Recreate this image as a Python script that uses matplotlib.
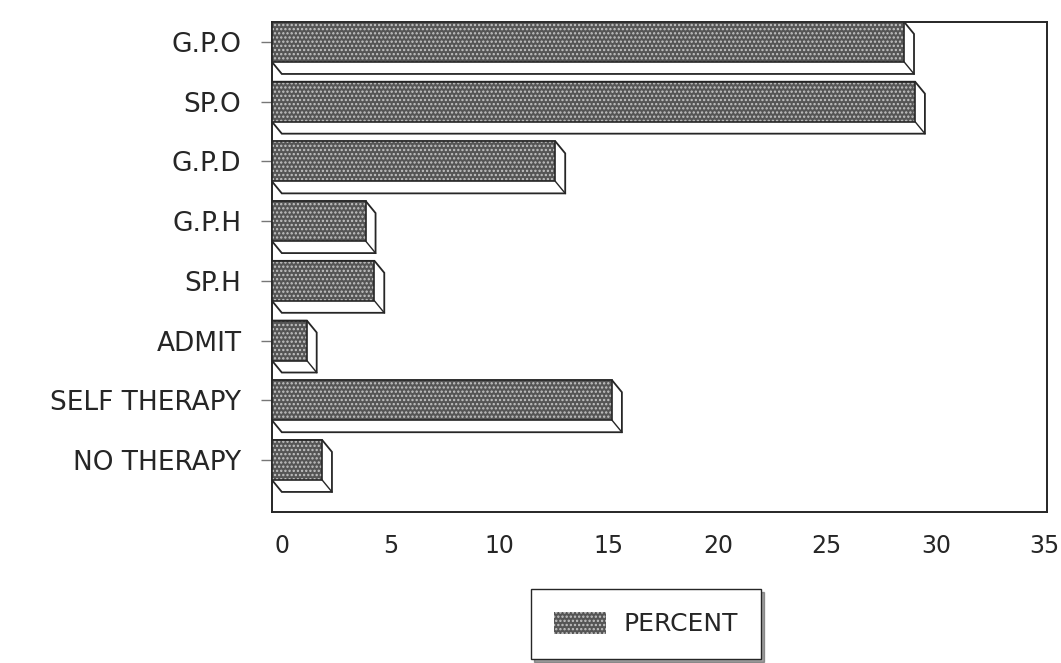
import matplotlib.pyplot as plt
from matplotlib.patches import Patch, Polygon

# data
categories = ["G.P.O", "SP.O", "G.P.D", "G.P.H", "SP.H", "ADMIT", "SELF THERAPY", "NO THERAPY"]
percent = [29.0, 29.5, 13.0, 4.3, 4.7, 1.6, 15.6, 2.3]
xticks = [0, 5, 10, 15, 20, 25, 30, 35]

plt.rcParams['hatch.linewidth'] = 1.1
plt.rcParams['font.family'] = ['DejaVu Sans']

ink = '#262626'
bar_face = '#555555'
dots = '#c4c4c4'

fig = plt.figure(figsize=(10.61, 6.63), dpi=100)
W, H = 1061, 663
ax = fig.add_axes([272 / W, 1 - 512 / H, (1047 - 272) / W, (512 - 22) / H])

ypos = list(range(len(categories)))
h = 0.67
dx, dy = 0.45, 0.2   # 3d depth offset (right and down)

# extruded back part of each bar
for y, v in zip(ypos, percent):
    top, bot = y - h / 2, y + h / 2
    shape = [(0, top), (v, top), (v + dx, top + dy), (v + dx, bot + dy), (dx, bot + dy), (0, bot)]
    ax.add_patch(Polygon(shape, closed=True, facecolor='white', edgecolor=ink, lw=1.3, zorder=3))
    ax.plot([v, v + dx], [bot, bot + dy], color=ink, lw=1.0, zorder=3)

# front faces
ax.barh(ypos, percent, height=h, facecolor=bar_face, edgecolor=dots, hatch='....', lw=0, zorder=4)
ax.barh(ypos, percent, height=h, fill=False, edgecolor=ink, lw=1.2, zorder=5)

ax.set_xlim(0, (1047 - 272) / 21.8)
ax.set_ylim(7 + 52 / 59.7, -20 / 59.7)

ax.set_yticks(ypos)
ax.set_yticklabels(categories, fontsize=19, color=ink)
# value labels sit on the back wall of the 3d box
ax.set_xticks([t + dx for t in xticks])
ax.set_xticklabels([str(t) for t in xticks], fontsize=17, color=ink)

ax.tick_params(axis='y', length=8, width=1, color='#777777', pad=14)
ax.tick_params(axis='x', length=0, pad=16)
for s in ax.spines.values():
    s.set_color(ink)
    s.set_linewidth(1.4)
    s.set_zorder(2)

legend_patch = Patch(facecolor=bar_face, edgecolor=dots, hatch='....', lw=0)
fig.legend(handles=[legend_patch], labels=['PERCENT'], loc='center',
           bbox_to_anchor=(646 / W, 1 - 624 / H), fancybox=False, edgecolor=ink,
           shadow={'color': '#444444'}, fontsize=18, handlelength=2.1, handleheight=1.0,
           borderpad=0.9, handletextpad=0.7, labelcolor=ink, framealpha=1)

fig.savefig('out.png', dpi=100)
